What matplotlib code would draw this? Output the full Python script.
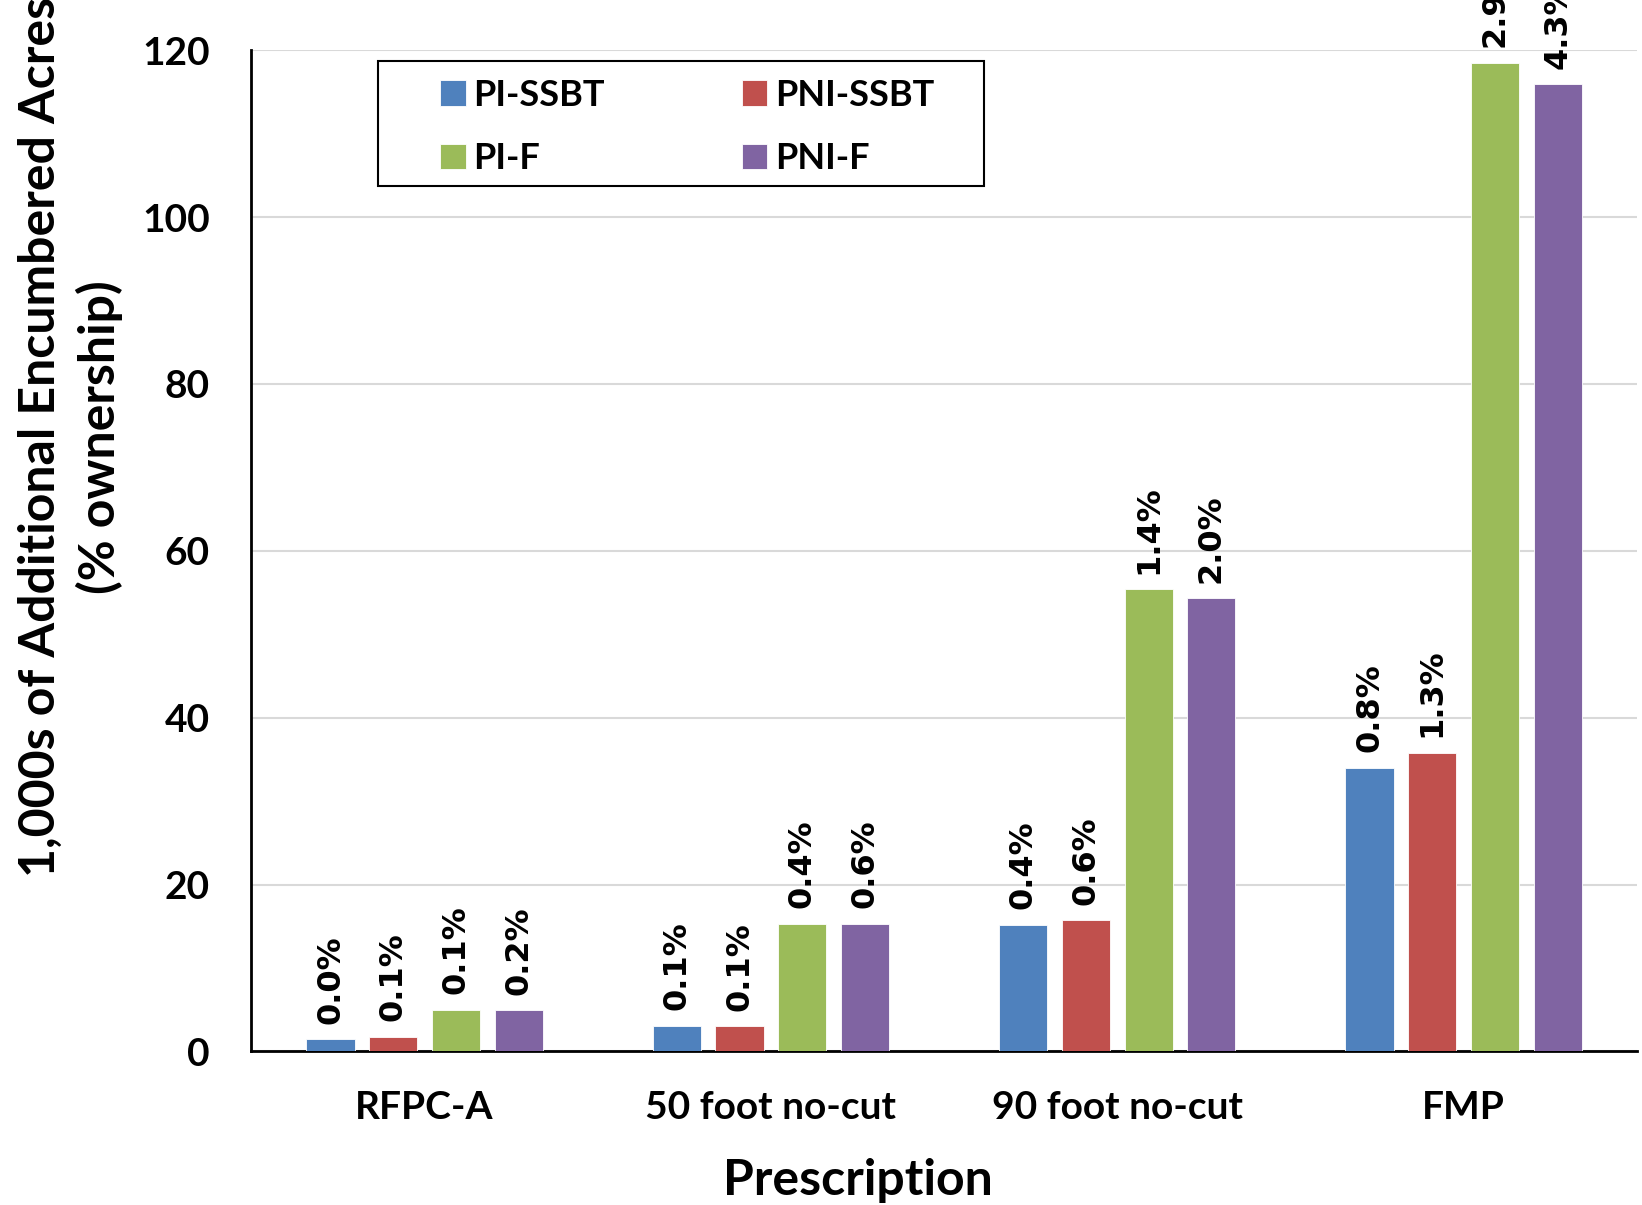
import matplotlib
matplotlib.use("Agg")
import matplotlib.pyplot as plt
from matplotlib.patches import Rectangle
import numpy as np

categories = ["RFPC-A", "50 foot no-cut", "90 foot no-cut", "FMP"]
series = ["PI-SSBT", "PNI-SSBT", "PI-F", "PNI-F"]
pi_ssbt = [1.5, 3.1, 15.2, 34.0]
pni_ssbt = [1.75, 3.0, 15.7, 35.8]
pi_f = [5.0, 15.3, 55.4, 118.5]
pni_f = [4.9, 15.3, 54.3, 115.9]
pct_pi_ssbt = ["0.0%", "0.1%", "0.4%", "0.8%"]
pct_pni_ssbt = ["0.1%", "0.1%", "0.6%", "1.3%"]
pct_pi_f = ["0.1%", "0.4%", "1.4%", "2.9%"]
pct_pni_f = ["0.2%", "0.6%", "2.0%", "4.3%"]
yticks = [0, 20, 40, 60, 80, 100, 120]

values = [pi_ssbt, pni_ssbt, pi_f, pni_f]
pcts = [pct_pi_ssbt, pct_pni_ssbt, pct_pi_f, pct_pni_f]
colors = ["#4F81BD", "#C0504D", "#9BBB59", "#8064A2"]

FONT = "Lato"

fig = plt.figure(figsize=(16.42, 12.05), dpi=100)
ax = fig.add_axes([0.1531, 0.1275, 0.8437, 0.8308])

x = np.arange(len(categories))
pitch = 0.181
width = 0.139
handles = []
for i, (vals, lab, col, pc) in enumerate(zip(values, series, colors, pcts)):
    pos = x + (i - 1.5) * pitch
    bars = ax.bar(pos, vals, width, color=col, label=lab, edgecolor="white", linewidth=0.6, zorder=3)
    handles.append(bars)
    for b, t in zip(bars, pc):
        ax.annotate(t, (b.get_x() + b.get_width() / 2, b.get_height()),
                    xytext=(0, 11), textcoords="offset points", rotation=90,
                    ha="center", va="bottom", fontsize=23, fontweight="bold",
                    family="DejaVu Sans", annotation_clip=False, clip_on=False)

ax.set_xlim(-0.5, 3.5)
ax.set_ylim(0, 120)
ax.set_yticks(yticks)
ax.set_xticks(x)
ax.set_xticklabels(categories)
ax.yaxis.grid(True, color="#d9d9d9", linewidth=1.5, zorder=0)
ax.set_axisbelow(True)
for s in ["top", "right"]:
    ax.spines[s].set_visible(False)
for s in ["left", "bottom"]:
    ax.spines[s].set_linewidth(2)
    ax.spines[s].set_color("black")
ax.tick_params(axis="both", length=0)
ax.tick_params(axis="y", pad=30)
ax.tick_params(axis="x", pad=28)
for lbl in ax.get_yticklabels():
    lbl.set_fontsize(28); lbl.set_fontweight("bold"); lbl.set_family(FONT)
for lbl in ax.get_xticklabels():
    lbl.set_fontsize(28); lbl.set_fontweight("bold"); lbl.set_family(FONT)

ax.set_xlabel("Prescription", fontsize=36, fontweight="bold", family=FONT, va="center")
ax.xaxis.set_label_coords(0.438, -0.129)
ax.set_ylabel("1,000s of Additional Encumbered Acres\n(% ownership)", fontsize=36,
              fontweight="bold", family=FONT, linespacing=1.35, va="center")
ax.yaxis.set_label_coords(-0.1306, 0.614)

# legend frame
ax.add_patch(Rectangle((0.0916, 0.864), 0.529 - 0.0916, 0.989 - 0.864,
                       transform=ax.transAxes, facecolor="white", edgecolor="black",
                       linewidth=1.5, zorder=5, clip_on=False))
order = [0, 2, 1, 3]
leg = ax.legend([handles[k] for k in order], [series[k] for k in order],
                ncol=2, loc="upper left", bbox_to_anchor=(0.1364, 0.9716),
                prop={"family": FONT, "weight": "bold", "size": 26},
                frameon=False, handlelength=0.7, handleheight=0.7, columnspacing=3.8,
                labelspacing=0.84, borderpad=0.0, borderaxespad=0.0, handletextpad=0.21)
leg.set_zorder(6)

fig.savefig("out.png", dpi=100)
